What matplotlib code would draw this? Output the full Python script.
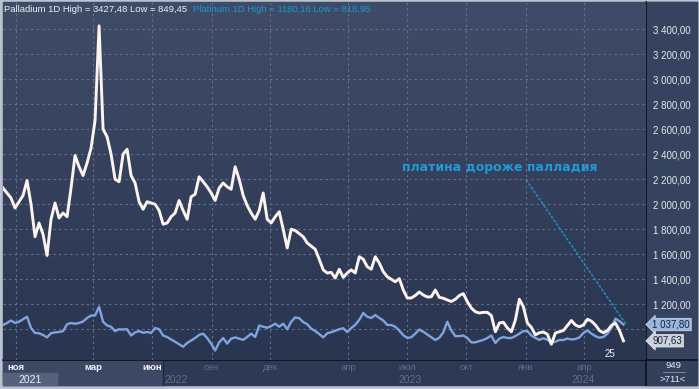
import numpy as np
import pandas as pd
import matplotlib
matplotlib.use('Agg')
import matplotlib.pyplot as plt
from matplotlib.colors import LinearSegmentedColormap
from matplotlib.patches import Rectangle
from matplotlib.transforms import blended_transform_factory

# daily close (resampled ~every 6 days)
palladium = [
    2130, 2090, 2050, 1970, 2020, 2070, 2190, 2000, 1740, 1850, 1760, 1590,
    1880, 2010, 1890, 1930, 1900, 2130, 2390, 2300, 2230, 2330, 2450, 2670,
    3427, 2600, 2540, 2400, 2200, 2180, 2400, 2440, 2230, 2170, 2020, 1960,
    2020, 2010, 2000, 1950, 1840, 1850, 1900, 1930, 2030, 1950, 1880, 2060,
    2080, 2220, 2180, 2140, 2090, 2030, 2130, 2170, 2140, 2120, 2300, 2200,
    2070, 1990, 1930, 1880, 1950, 2090, 1880, 1850, 1900, 1940, 1800, 1650,
    1800, 1790, 1765, 1740, 1690, 1665, 1640, 1560, 1475, 1450, 1455, 1410,
    1480, 1415, 1450, 1475, 1450, 1580, 1560, 1500, 1480, 1580, 1530, 1460,
    1420, 1400, 1380, 1405, 1314, 1250, 1250, 1270, 1298, 1274, 1258, 1260,
    1314, 1255, 1248, 1234, 1222, 1240, 1270, 1285, 1220, 1170, 1140, 1130,
    1135, 1135, 1110, 980, 1050, 1056, 1010, 980, 1074, 1240, 1180, 1050,
    1015, 955, 972, 978, 960, 880, 970, 980, 990, 1030, 1070, 1034,
    1020, 1034, 1080, 1065, 1034, 990, 972, 990, 1030, 1050, 990, 907.63,
]
platinum = [
    1034, 1050, 1070, 1050, 1060, 1080, 1100, 1010, 970, 968, 954, 935,
    968, 975, 978, 985, 1040, 1050, 1044, 1050, 1062, 1090, 1110, 1110,
    1180, 1060, 1030, 1020, 985, 1000, 998, 1000, 950, 975, 985, 972,
    978, 970, 1010, 1000, 950, 938, 918, 900, 880, 860, 890, 910,
    930, 955, 965, 930, 885, 830, 895, 930, 885, 925, 935, 925,
    915, 938, 965, 938, 1030, 1020, 1012, 1025, 1045, 1020, 1045, 1000,
    1060, 1095, 1088, 1058, 1040, 1005, 985, 962, 935, 968, 976, 988,
    1000, 1008, 978, 1010, 1035, 1075, 1130, 1100, 1090, 1114, 1090, 1070,
    1034, 1034, 1020, 990, 952, 930, 936, 965, 998, 980, 958, 935,
    914, 932, 975, 1060, 990, 945, 945, 950, 930, 895, 895, 905,
    915, 930, 950, 890, 925, 938, 930, 930, 945, 965, 985, 985,
    950, 930, 915, 928, 916, 895, 900, 914, 914, 926, 918, 922,
    935, 970, 990, 965, 945, 932, 938, 965, 1010, 1085, 1065, 1037.80,
]
first_day, last_day = '2021-10-12', '2024-06-01'

month_ticks = ['2021-11-01', '2022-03-01', '2022-06-01', '2022-09-01', '2022-12-01',
               '2023-04-01', '2023-07-01', '2023-10-01', '2024-01-01', '2024-04-01']
month_labels = ['ноя', 'мар', 'июн', 'сен', 'дек', 'апр', 'июл', 'окт', 'янв', 'апр']
year_labels = ['2021', '2022', '2023', '2024']
year_dates = ['2021-11-23', '2022-06-20', '2023-07-06', '2024-03-30']
price_ticks = list(range(1000, 3401, 200))

plt.rcParams['font.family'] = ['Liberation Sans', 'DejaVu Sans']

fig = plt.figure(figsize=(6.99, 3.89), dpi=100)
fig.patch.set_facecolor('#b9c2ce')

# frame / panels drawn in pixel coordinates
bg = fig.add_axes([0, 0, 1, 1], zorder=-5)
bg.set_xlim(0, 699)
bg.set_ylim(389, 0)
bg.axis('off')
bg.add_patch(Rectangle((3, 2), 694, 383, color='#2d3955'))
bg.add_patch(Rectangle((646, 2), 51, 358, color='#36435f'))
bg.add_patch(Rectangle((3, 360), 160, 25, color='#3c4864'))
bg.add_patch(Rectangle((3, 373), 54, 12, color='#55617d'))
bg.add_patch(Rectangle((646, 360), 51, 25, color='#33405c'))
bg.plot([163, 163], [360, 385], color='#1e2840', lw=1)
bg.plot([646, 646], [2, 385], color='#0b0f18', lw=1.2)
bg.plot([3, 697], [360, 360], color='#0b0f18', lw=1.2)
bg.plot([663, 685], [372, 372], color='#8a97b0', lw=0.6)
bg.text(673, 366, '949', color='#e8ecf2', fontsize=6.8, ha='center', va='center')
bg.text(673, 380, '>711<', color='#e8ecf2', fontsize=6.8, ha='center', va='center')

ax = fig.add_axes([3 / 699, 29 / 389, 643 / 699, 358 / 389])
ax.set_facecolor('none')
grad = LinearSegmentedColormap.from_list('bg', ['#2a3550', '#3f4c68'])
ax.imshow(np.linspace(0, 1, 256).reshape(-1, 1), cmap=grad, origin='lower',
          extent=[0, 1, 0, 1], transform=ax.transAxes, aspect='auto', zorder=0)

d_pd = pd.date_range(first_day, last_day, periods=len(palladium))
d_pt = pd.date_range(first_day, last_day, periods=len(platinum))
ax.plot(d_pt, platinum, color='#7ea5e0', lw=1.7, zorder=3)
ax.plot(d_pd, palladium, color='#fdf3ee', lw=2.1, zorder=4)

ax.set_xlim(pd.Timestamp('2021-10-12'), pd.Timestamp('2024-07-06'))
ax.set_ylim(754, 3618)

ax.set_yticks(price_ticks)
ax.set_yticklabels(['' if v < 1200 else f'{v:,.2f}'.replace(',', ' ').replace('.', ',')
                    for v in price_ticks])
ax.yaxis.tick_right()
ax.tick_params(axis='y', length=0, pad=5, labelcolor='#e4e8ef', labelsize=7)

ax.set_xticks(pd.to_datetime(month_ticks))
ax.set_xticklabels(month_labels)
ax.tick_params(axis='x', length=0, pad=2, labelsize=6.8)
for i, lbl in enumerate(ax.get_xticklabels()):
    if i < 3:
        lbl.set_color('#f2f4f8')
        lbl.set_fontweight('bold')
    else:
        lbl.set_color('#5f6f8e')

ax.grid(True, color='#66738f', linestyle=(0, (2, 3)), linewidth=0.8, zorder=1)
for s in ax.spines.values():
    s.set_visible(False)

trans = blended_transform_factory(ax.transData, ax.transAxes)
for i, (lab, d) in enumerate(zip(year_labels, year_dates)):
    ax.text(pd.Timestamp(d), -0.057, lab, transform=trans, fontsize=7.5,
            color='#eef1f6' if i == 0 else '#5f6f8e',
            ha='left' if i == 1 else 'center', va='center', clip_on=False)

ax.text(0.002, 0.98, 'Palladium 1D High = 3427,48 Low = 849,45', transform=ax.transAxes,
        color='#eef0f4', fontsize=6.8, va='center')
ax.text(0.2955, 0.98, 'Platinum 1D High = 1180,16 Low = 818,95', transform=ax.transAxes,
        color='#1f96d2', fontsize=6.8, va='center')

ax.annotate('', xy=(pd.Timestamp('2024-06-08'), 1018), xytext=(pd.Timestamp('2023-12-31'), 2210),
            arrowprops=dict(arrowstyle='-', color='#1b8cc4', linestyle=':', linewidth=1.2))
ax.text(pd.Timestamp('2023-11-22'), 2290, 'платина дороже палладия', color='#1f9bd7',
        fontsize=9.0, fontweight='bold', family='DejaVu Sans', ha='center', va='center')
ax.text(pd.Timestamp('2024-05-11'), 803, '25', color='#eef0f4', fontsize=7,
        ha='center', va='center')

# last value boxes
vtrans = blended_transform_factory(ax.transAxes, ax.transData)
ax.text(1.01, platinum[-1], f'{platinum[-1]:,.2f}'.replace(',', ' ').replace('.', ','),
        transform=vtrans, fontsize=7, color='#14213a', va='center', ha='left', clip_on=False,
        bbox=dict(boxstyle='larrow,pad=0.12', fc='#9ab7dd', ec='#c9d6ea', lw=0.6))
ax.text(1.01, palladium[-1], f'{palladium[-1]:.2f}'.replace('.', ','),
        transform=vtrans, fontsize=7, color='#14213a', va='center', ha='left', clip_on=False,
        bbox=dict(boxstyle='larrow,pad=0.12', fc='#cdd1d8', ec='#e6e8ec', lw=0.6))

fig.savefig('out.png', dpi=100)
